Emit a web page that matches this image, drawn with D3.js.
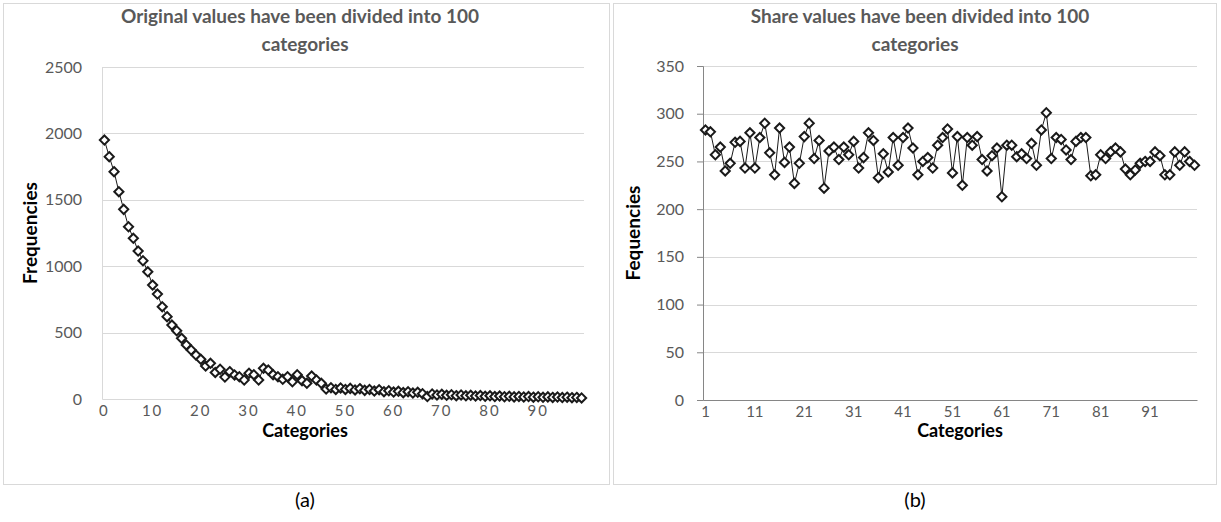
<!DOCTYPE html>
<html>
<head>
<meta charset="utf-8">
<script src="https://cdn.jsdelivr.net/npm/d3@7"></script>
<style>
  body { margin: 0; background: #fff; }
  svg { font-family: Lato, "Open Sans", sans-serif; }
</style>
</head>
<body>
<div id="chart"></div>
<script>
// Data
const catsA = d3.range(0, 100);          // categories 0..99
const freqA = [1950, 1825, 1712, 1561, 1428, 1297, 1210, 1114, 1041, 958,
               858, 790, 695, 620, 557, 514, 457, 407, 369, 331,
               299, 248, 269, 200, 224, 165, 206, 181, 168, 143,
               194, 183, 143, 231, 218, 183, 168, 148, 168, 130,
               183, 138, 118, 173, 143, 118, 75, 85, 72, 83,
               72, 80, 68, 78, 65, 72, 60, 70, 55, 62,
               52, 58, 48, 55, 45, 50, 40, 18, 38, 30,
               35, 28, 32, 25, 30, 24, 28, 22, 26, 20,
               24, 18, 22, 17, 20, 16, 19, 15, 18, 14,
               17, 13, 16, 12, 15, 11, 14, 10, 12, 8];
const ticksA = [0, 500, 1000, 1500, 2000, 2500];

const catsB = d3.range(1, 101);          // categories 1..100
const freqB = [283, 281, 257, 265, 240, 248, 270, 271, 243, 280,
               243, 275, 290, 259, 236, 285, 249, 265, 227, 248,
               276, 290, 253, 272, 222, 261, 265, 252, 265, 257,
               271, 243, 254, 280, 272, 233, 258, 239, 275, 246,
               275, 285, 264, 236, 250, 254, 243, 267, 275, 284,
               238, 276, 225, 275, 267, 276, 252, 240, 256, 264,
               213, 267, 267, 255, 258, 253, 269, 246, 283, 301,
               253, 275, 273, 262, 252, 271, 275, 275, 235, 236,
               257, 253, 260, 264, 260, 242, 236, 241, 248, 250,
               250, 260, 256, 236, 236, 260, 246, 260, 250, 246];
const ticksB = [0, 50, 100, 150, 200, 250, 300, 350];

const svg = d3.select("#chart").append("svg")
    .attr("width", 1221)
    .attr("height", 522);

function drawPanel(opt) {
    const g = svg.append("g");

    // panel border
    g.append("rect")
        .attr("x", opt.box[0] + 0.5).attr("y", opt.box[1] + 0.5)
        .attr("width", opt.box[2]).attr("height", opt.box[3])
        .attr("fill", "#fff").attr("stroke", "#d9d9d9").attr("stroke-width", 1);

    const x = d3.scaleBand()
        .domain(opt.cats)
        .range([opt.left, opt.right]);
    const y = d3.scaleLinear()
        .domain([0, opt.ticks[opt.ticks.length - 1]])
        .range([opt.bottom, opt.top]);
    const cx = d => x(d) + x.bandwidth() / 2;

    // horizontal grid lines
    g.selectAll(".grid")
        .data(opt.ticks.slice(1))
        .join("line")
        .attr("x1", opt.left).attr("x2", opt.right)
        .attr("y1", d => Math.round(y(d)) + 0.5).attr("y2", d => Math.round(y(d)) + 0.5)
        .attr("stroke", "#d9d9d9").attr("stroke-width", 1);

    // Y axis
    const yAxis = g.append("g")
        .attr("transform", `translate(${opt.left},0)`)
        .call(d3.axisLeft(y).tickValues(opt.ticks).tickFormat(d3.format("d"))
            .tickSize(opt.yTick).tickPadding(opt.yPad));
    yAxis.select(".domain").attr("stroke", opt.yAxisColor);
    yAxis.selectAll(".tick line").attr("stroke", opt.yAxisColor);
    yAxis.selectAll("text").attr("fill", "#595959").style("font-size", "16px")
        .style("font-family", "Lato, sans-serif");

    // X axis
    const xAxis = g.append("g")
        .attr("transform", `translate(0,${opt.bottom})`)
        .call(d3.axisBottom(x)
            .tickValues(opt.cats.filter((d, i) => i % 10 === 0))
            .tickSize(0).tickPadding(6));
    xAxis.select(".domain").attr("stroke", opt.xAxisColor);
    xAxis.selectAll("text").attr("fill", "#595959").style("font-size", "15px")
        .style("letter-spacing", opt.letterSpacing)
        .style("font-family", "Lato, sans-serif");

    // the line
    g.append("path")
        .datum(opt.cats.map((c, i) => [c, opt.values[i]]))
        .attr("fill", "none")
        .attr("stroke", "#1a1a1a")
        .attr("stroke-width", 1)
        .attr("d", d3.line().x(d => cx(d[0])).y(d => y(d[1])));

    // diamond markers
    g.selectAll(".pt")
        .data(opt.cats.map((c, i) => [c, opt.values[i]]))
        .join("path")
        .attr("transform", d => `translate(${cx(d[0])},${y(d[1])})`)
        .attr("d", "M0,-4.6L4.6,0L0,4.6L-4.6,0Z")
        .attr("fill", "#fff")
        .attr("stroke", "#1a1a1a")
        .attr("stroke-width", 2);

    // chart title
    g.append("text")
        .attr("x", opt.titleX).attr("y", 23)
        .attr("text-anchor", "middle")
        .attr("fill", "#595959")
        .style("font-size", "19px").style("font-weight", "bold")
        .text(opt.title[0]);
    g.append("text")
        .attr("x", opt.titleX2).attr("y", 51)
        .attr("text-anchor", "middle")
        .attr("fill", "#595959")
        .style("font-size", "19px").style("font-weight", "bold")
        .text(opt.title[1]);

    // axis titles
    g.append("text")
        .attr("transform", `translate(${opt.yLabelX},${(opt.top + opt.bottom) / 2}) rotate(-90)`)
        .attr("text-anchor", "middle")
        .attr("fill", "#000")
        .style("font-size", "19px").style("font-weight", "bold")
        .text(opt.yLabel);
    g.append("text")
        .attr("x", opt.xLabelX).attr("y", 437)
        .attr("text-anchor", "middle")
        .attr("fill", "#000")
        .style("font-size", "18px").style("font-weight", "bold")
        .text("Categories");

    // panel caption
    svg.append("text")
        .attr("x", opt.capX).attr("y", 507)
        .attr("text-anchor", "middle")
        .attr("fill", "#000")
        .style("font-size", "20px")
        .style("font-family", "Lato, sans-serif")
        .text(opt.caption);
}

drawPanel({
    box: [3, 3, 606, 481],
    cats: catsA, values: freqA, ticks: ticksA,
    left: 102, right: 584, top: 67, bottom: 399,
    yTick: 0, yPad: 20, yAxisColor: "#d9d9d9", xAxisColor: "#d9d9d9",
    letterSpacing: "2px",
    title: ["Original values have been divided into 100", "categories"],
    titleX: 300, titleX2: 305,
    yLabel: "Frequencies", yLabelX: 37, xLabelX: 305,
    caption: "(a)", capX: 305
});

drawPanel({
    box: [613, 3, 603, 481],
    cats: catsB, values: freqB, ticks: ticksB,
    left: 703, right: 1197, top: 66, bottom: 400,
    yTick: 6, yPad: 13, yAxisColor: "#868686", xAxisColor: "#868686",
    letterSpacing: "0px",
    title: ["Share values have been divided into 100", "categories"],
    titleX: 920, titleX2: 915,
    yLabel: "Fequencies", yLabelX: 640, xLabelX: 960,
    caption: "(b)", capX: 915
});
</script>
</body>
</html>
